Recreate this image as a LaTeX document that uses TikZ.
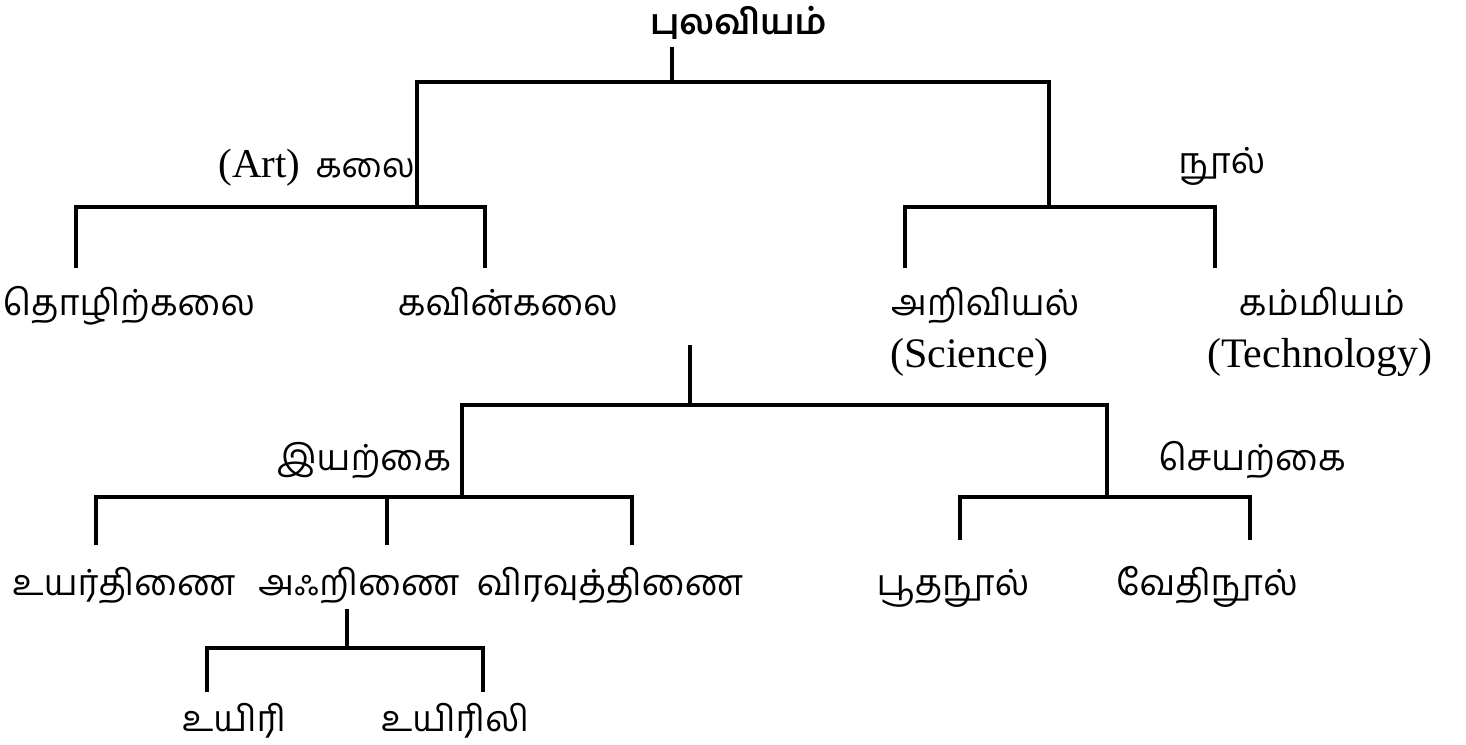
\documentclass[tikz,border=0pt]{standalone}
\usepackage{fontspec}
\setmainfont{Liberation Serif}
\newfontfamily\tam[Script=Tamil]{Hind Madurai}

\tikzset{
    lbl/.style={inner sep=0pt, anchor=base, font=\tam\fontsize{36}{42}\selectfont},
    eng/.style={inner sep=0pt, anchor=base, font=\fontsize{42}{48}\selectfont}
}

\begin{document}
\begin{tikzpicture}[x=1pt, y=-1pt, line width=4.2pt]

    \useasboundingbox (0,0) rectangle (1466,744);

    % -- Radice --
    \node[lbl, anchor=base west, font=\tam\bfseries\fontsize{35}{40}\selectfont] (pulaviyam) at (648,34) {புலவியம்};
    \coordinate (root) at (672,82);
    \coordinate (roottop) at (672,47);

    % -- Primo livello --
    \node[lbl, anchor=base east] (kalai) at (417,177) {\rmfamily\fontsize{41}{46}\selectfont (Art)\,\tam\fontsize{34}{40}\selectfont\ கலை};
    \node[lbl] (nul) at (1222,173) {நூல்};
    \coordinate (kalaij) at (417,207);
    \coordinate (nulj) at (1049,207);

    \draw (roottop) -- (root);
    \draw (kalaij) |- (root) -| (nulj);

    % -- Secondo livello --
    \node[lbl] (tozhil) at (129,315) {தொழிற்கலை};
    \node[lbl] (kavin) at (508,315) {கவின்கலை};
    \node[lbl, anchor=base west] (ariviyal) at (889,315) {அறிவியல்};
    \node[eng, anchor=base west] (science) at (888,367) {(Science)};
    \node[lbl] (kammiyam) at (1322,315) {கம்மியம்};
    \node[eng] (technology) at (1320,367) {(Technology)};

    \coordinate (tozhiltip) at (76,268);
    \coordinate (kavintip) at (485,268);
    \coordinate (ariviyaltip) at (905,268);
    \coordinate (kammiyamtip) at (1215,268);

    \draw (tozhiltip) |- (kalaij) -| (kavintip);
    \draw (ariviyaltip) |- (nulj) -| (kammiyamtip);

    % -- Albero centrale: iyarkai / seyarkai --
    \coordinate (midtop) at (690,345);
    \coordinate (mid) at (690,405);
    \coordinate (iyarkaij) at (462,497);
    \coordinate (seyarkaij) at (1107,497);

    \node[lbl] (iyarkai) at (364,470) {இயற்கை};
    \node[lbl] (seyarkai) at (1252,470) {செயற்கை};

    \draw (midtop) -- (mid);
    \draw (iyarkaij) |- (mid) -| (seyarkaij);

    % -- Terzo livello --
    \node[lbl] (uyarthinai) at (124,595) {உயர்திணை};
    \node[lbl] (akrinai) at (359,595) {அஃறிணை};
    \node[lbl] (viravu) at (610,595) {விரவுத்திணை};
    \node[lbl] (boothanool) at (953,595) {பூதநூல்};
    \node[lbl] (vethinool) at (1207,595) {வேதிநூல்};

    \coordinate (uyartip) at (96,545);
    \coordinate (akrtip) at (387,545);
    \coordinate (viravutip) at (632,545);
    \coordinate (boothatip) at (960,540);
    \coordinate (vethitip) at (1250,540);

    \draw (uyartip) |- (iyarkaij) -| (viravutip);
    \draw (akrtip) -- (akrtip |- iyarkaij);
    \draw (boothatip) |- (seyarkaij) -| (vethitip);

    % -- Quarto livello: uyiri / uyirili --
    \coordinate (akrbot) at (347,609);
    \coordinate (uyirj) at (347,648);
    \coordinate (uyiritip) at (207,692);
    \coordinate (uyirilitip) at (483,692);

    \node[lbl] (uyiri) at (234,731) {உயிரி};
    \node[lbl] (uyirili) at (455,731) {உயிரிலி};

    \draw (akrbot) -- (uyirj);
    \draw (uyiritip) |- (uyirj) -| (uyirilitip);

\end{tikzpicture}
\end{document}
